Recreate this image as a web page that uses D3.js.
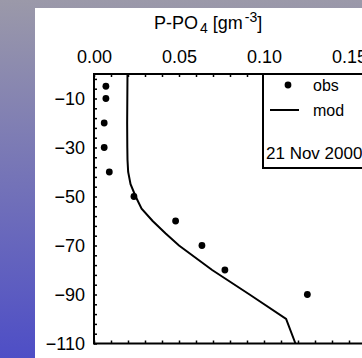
<!DOCTYPE html>
<html><head><meta charset="utf-8">
<script src="https://cdn.jsdelivr.net/npm/d3@7"></script>
<style>
html,body{margin:0;padding:0;overflow:hidden;}
svg{display:block;font-family:"Liberation Sans",Arial,sans-serif;}
</style></head>
<body>
<svg id="c" width="362" height="358"></svg>
<script>
// ---- data ----
const obsDepth = [-5, -10, -20, -30, -40, -50, -60, -70, -80, -90];
const obsValue = [0.007, 0.007, 0.006, 0.006, 0.009, 0.0235, 0.048, 0.0635, 0.077, 0.1255];
const modDepth = [0, -10, -20, -30, -35, -40, -45, -50, -55, -60, -65, -70, -80, -90, -100, -110];
const modValue = [0.0197, 0.0196, 0.0195, 0.0196, 0.0197, 0.0201, 0.0215, 0.0245, 0.028, 0.0345, 0.042, 0.050, 0.0695, 0.0915, 0.113, 0.1185];
const xTickValues = [0.00, 0.05, 0.10, 0.15];
const yTickValues = [-10, -30, -50, -70, -90, -110];
const legendLabels = ["obs", "mod"];
const dateLabel = "21 Nov 2000";

const svg = d3.select("#c");
const defs = svg.append("defs");
const grad = defs.append("linearGradient").attr("id","bg").attr("x1",0).attr("y1",0).attr("x2",0).attr("y2",1);
grad.append("stop").attr("offset","0%").attr("stop-color","#9b99a9");
grad.append("stop").attr("offset","100%").attr("stop-color","#4e4ec6");
svg.append("rect").attr("width",362).attr("height",358).attr("fill","url(#bg)");
svg.append("rect").attr("x",35).attr("y",8).attr("width",340).attr("height",360).attr("fill","#fff");

const x = d3.scaleLinear().domain([0, 0.17]).range([94, 94 + 0.17 * 1700]);
const y = d3.scaleLinear().domain([0, -110]).range([74, 343.5]);

const xMinor = d3.range(0, 0.171, 0.01);
const yMinor = d3.range(-110, 0, 4);

const topAxis = svg.append("g").attr("transform",`translate(0,${y(0)})`)
  .call(d3.axisTop(x).tickValues(xTickValues).tickSize(0).tickPadding(11).tickFormat(d3.format(".2f")));
topAxis.select(".domain").remove();
topAxis.selectAll("text").attr("font-size",18).attr("font-family","Liberation Sans, Arial, sans-serif").attr("fill","#000");

svg.append("g").attr("transform",`translate(0,${y(0)})`)
  .call(d3.axisBottom(x).tickValues(xMinor).tickSize(3).tickFormat(""))
  .call(g=>g.select(".domain").remove())
  .selectAll("line").attr("stroke","#000").attr("stroke-width",1.5);
svg.append("g").attr("transform",`translate(0,${y(-110)})`)
  .call(d3.axisTop(x).tickValues(xMinor).tickSize(3).tickFormat(""))
  .call(g=>g.select(".domain").remove())
  .selectAll("line").attr("stroke","#000").attr("stroke-width",1.5);

const leftAxis = svg.append("g").attr("transform",`translate(${x(0)},0)`)
  .call(d3.axisLeft(y).tickValues(yTickValues).tickSize(0).tickPadding(9));
leftAxis.select(".domain").remove();
leftAxis.selectAll("text").attr("font-size",18).attr("font-family","Liberation Sans, Arial, sans-serif").attr("fill","#000");
svg.append("g").attr("transform",`translate(${x(0)},0)`)
  .call(d3.axisRight(y).tickValues(yMinor).tickSize(3).tickFormat(""))
  .call(g=>g.select(".domain").remove())
  .selectAll("line").attr("stroke","#000").attr("stroke-width",1.5);

svg.append("line").attr("x1",x(0)).attr("x2",370).attr("y1",y(0)).attr("y2",y(0)).attr("stroke","#000").attr("stroke-width",2);
svg.append("line").attr("x1",x(0)).attr("x2",370).attr("y1",y(-110)).attr("y2",y(-110)).attr("stroke","#000").attr("stroke-width",2);
svg.append("line").attr("x1",x(0)).attr("x2",x(0)).attr("y1",y(0)-1).attr("y2",y(-110)+1).attr("stroke","#000").attr("stroke-width",2);

const modData = modDepth.map((d,i)=>({d, v:modValue[i]}));
svg.append("path").datum(modData)
  .attr("d", d3.line().x(p=>x(p.v)).y(p=>y(p.d)))
  .attr("fill","none").attr("stroke","#000").attr("stroke-width",2);

const obsData = obsDepth.map((d,i)=>({d, v:obsValue[i]}));
svg.append("g").selectAll("circle").data(obsData).join("circle")
  .attr("cx",p=>x(p.v)).attr("cy",p=>y(p.d)).attr("r",3.4).attr("fill","#000");

const lg = svg.append("g");
lg.append("rect").attr("x",263).attr("y",y(0)).attr("width",120).attr("height",94)
  .attr("fill","#fff").attr("stroke","#000").attr("stroke-width",2);
lg.append("circle").attr("cx",288).attr("cy",85).attr("r",3.4).attr("fill","#000");
lg.append("line").attr("x1",270).attr("x2",299).attr("y1",110).attr("y2",110).attr("stroke","#000").attr("stroke-width",2);
lg.selectAll("text.l").data(legendLabels).join("text").attr("class","l")
  .attr("x",313).attr("y",(d,i)=>85 + i*25).attr("dy","0.35em")
  .attr("font-size",16).text(d=>d);
lg.append("text").attr("x",266).attr("y",159).attr("font-size",17).text(dateLabel);

const t = svg.append("text").attr("x",154).attr("y",29).attr("font-size",18);
t.append("tspan").text("P-PO");
t.append("tspan").attr("font-size",14).attr("dy",4).attr("dx",2).text("4");
t.append("tspan").attr("dy",-4).text(" [gm");
t.append("tspan").attr("font-size",14).attr("dy",-7).attr("dx",2).text("-3");
t.append("tspan").attr("dy",7).text("]");
</script>
</body></html>
